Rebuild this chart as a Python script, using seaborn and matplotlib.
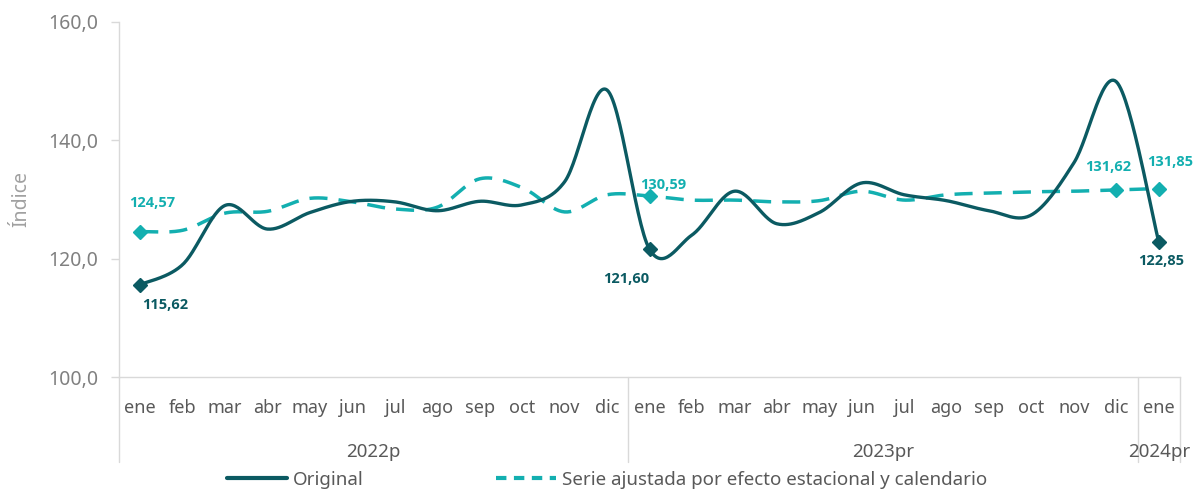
import numpy as np
import pandas as pd
import seaborn as sns
import matplotlib.pyplot as plt
import matplotlib.ticker as mtick
import matplotlib.transforms as mtrans
from matplotlib.lines import Line2D

# datos
meses = ["ene", "feb", "mar", "abr", "may", "jun", "jul", "ago", "sep", "oct", "nov", "dic"] * 2 + ["ene"]
anios = ["2022p", "2023pr", "2024pr"]
anios_pos = [5.5, 17.5, 24]
original = [115.62, 119.0, 129.0, 125.0, 127.8, 129.7, 129.6, 128.1, 129.7, 129.1, 133.0, 148.5,
            121.60, 124.0, 131.4, 125.9, 127.8, 132.8, 130.8, 129.8, 128.1, 127.4, 136.2, 149.9,
            122.85]
ajustada = [124.57, 124.8, 127.7, 128.0, 130.2, 129.6, 128.4, 128.7, 133.5, 132.0, 127.9, 130.8,
            130.59, 129.9, 129.9, 129.6, 129.8, 131.4, 129.9, 130.8, 131.1, 131.3, 131.4, 131.62,
            131.85]
etiq_original = [0, 12, 24]
etiq_ajustada = [0, 12, 23, 24]

c_orig = "#0B5A62"
c_ajus = "#13AFB0"
gris = "#595959"
gris_claro = "#808080"
gris_linea = "#D9D9D9"


def suavizar(vals, n=30):
    # curva tipo Catmull-Rom, pasa por todos los puntos
    p = np.column_stack([np.arange(len(vals), dtype=float), np.array(vals, dtype=float)])
    p = np.vstack([p[0], p, p[-1]])
    out = []
    t = np.linspace(0, 1, n, endpoint=False)[:, None]
    for i in range(1, len(p) - 2):
        p0, p1, p2, p3 = p[i - 1], p[i], p[i + 1], p[i + 2]
        seg = 0.5 * ((2 * p1) + (-p0 + p2) * t + (2 * p0 - 5 * p1 + 4 * p2 - p3) * t ** 2
                     + (-p0 + 3 * p1 - 3 * p2 + p3) * t ** 3)
        out.append(seg)
    out.append(p[-2][None, :])
    arr = np.vstack(out)
    return pd.DataFrame({"x": arr[:, 0], "y": arr[:, 1]})


sns.set_style("white")
plt.rcParams['font.family'] = ['Noto Sans', 'DejaVu Sans']
fuente_bold = ['Open Sans', 'Lato', 'DejaVu Sans']

fig = plt.figure(figsize=(11.94, 4.91), dpi=100)
ax = fig.add_axes([119 / 1194, 1 - 377 / 491, (1180 - 119) / 1194, 355 / 491])

sns.lineplot(data=suavizar(ajustada), x="x", y="y", ax=ax, color=c_ajus, lw=2.5,
             dashes=False, linestyle=(0, (5.2, 3.2)), sort=False)
sns.lineplot(data=suavizar(original), x="x", y="y", ax=ax, color=c_orig, lw=2.4, sort=False)

ax.plot(etiq_ajustada, [ajustada[i] for i in etiq_ajustada], ls="none", marker="D", ms=7, color=c_ajus)
ax.plot(etiq_original, [original[i] for i in etiq_original], ls="none", marker="D", ms=7, color=c_orig)

# etiquetas de datos
off_aj = {0: (8.6, 20.9), 12: (10, 8), 23: (-5.8, 16.6), 24: (8.4, 19.4)}
off_or = {0: (18, -14.4), 12: (-16.6, -21.6), 24: (1.4, -13.7)}
for i, (dx, dy) in off_aj.items():
    ax.annotate(f"{ajustada[i]:.2f}".replace(".", ","), (i, ajustada[i]), xytext=(dx, dy),
                textcoords="offset points", ha="center", va="center", color=c_ajus,
                fontsize=10.5, fontweight="bold", family=fuente_bold, annotation_clip=False)
for i, (dx, dy) in off_or.items():
    ax.annotate(f"{original[i]:.2f}".replace(".", ","), (i, original[i]), xytext=(dx, dy),
                textcoords="offset points", ha="center", va="center", color=c_orig,
                fontsize=10.5, fontweight="bold", family=fuente_bold, annotation_clip=False)

ax.set_xlim(-0.5, 24.5)
ax.set_ylim(100, 160)
ax.set_yticks([100, 120, 140, 160])
ax.yaxis.set_major_formatter(mtick.FuncFormatter(lambda v, p: f"{v:.1f}".replace(".", ",")))
ax.set_xticks(range(len(meses)))
ax.set_xticklabels(meses)
ax.tick_params(axis="x", length=0, pad=16, labelsize=13, labelcolor=gris)
ax.tick_params(axis="y", left=True, length=6, width=1, color=gris_linea, pad=9,
               labelsize=14, labelcolor=gris_claro)
ax.set_xlabel("")
ax.set_ylabel("Índice", fontsize=14, color="#A0A0A0", labelpad=12)

for s in ["top", "right"]:
    ax.spines[s].set_visible(False)
for s in ["left", "bottom"]:
    ax.spines[s].set_color(gris_linea)
    ax.spines[s].set_linewidth(1)

tr = mtrans.blended_transform_factory(ax.transData, ax.transAxes)
for xv in [-0.5, 11.5, 23.5, 24.5]:
    ax.add_line(Line2D([xv, xv], [0, -0.24], transform=tr, color=gris_linea, lw=1, clip_on=False))
for nombre, xv in zip(anios, anios_pos):
    ax.text(xv, -0.212, nombre, transform=tr, ha="center", va="center", fontsize=13.5, color=gris)

handles = [Line2D([], [], color=c_orig, lw=3),
           Line2D([], [], color=c_ajus, lw=3, linestyle=(0, (2.5, 1.8)))]
fig.legend(handles, ["Original", "Serie ajustada por efecto estacional y calendario"],
           loc="center", bbox_to_anchor=(607 / 1194, 1 - 480 / 491), ncol=2, frameon=False,
           fontsize=13.5, handlelength=3.2, handletextpad=0.3, columnspacing=7.1,
           labelcolor=gris)

plt.savefig("out.png", dpi=100)
plt.close()
